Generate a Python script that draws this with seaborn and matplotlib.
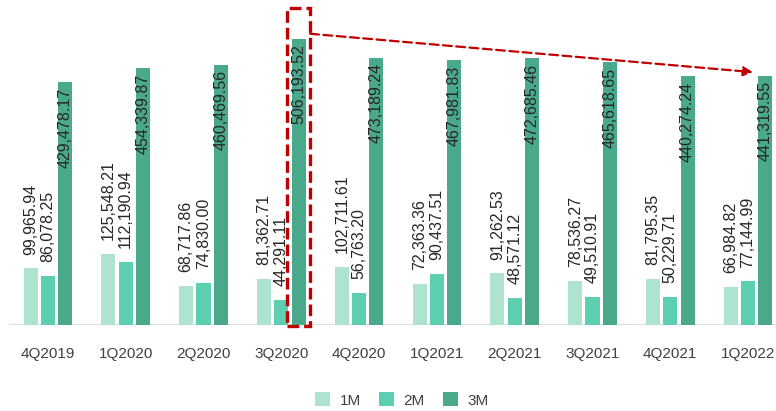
import pandas as pd
import seaborn as sns
import matplotlib.pyplot as plt
from matplotlib.patches import Rectangle

quarters = ["4Q2019", "1Q2020", "2Q2020", "3Q2020", "4Q2020",
            "1Q2021", "2Q2021", "3Q2021", "4Q2021", "1Q2022"]
tenors = ["1M", "2M", "3M"]
m1 = [99965.94, 125548.21, 68717.86, 81362.71, 102711.61,
      72363.36, 91262.53, 78536.27, 81795.35, 66984.82]
m2 = [86078.25, 112190.94, 74830.00, 44291.11, 56763.20,
      90437.51, 48571.12, 49510.91, 50229.71, 77144.99]
m3 = [429478.17, 454339.87, 460469.56, 506193.52, 473189.24,
      467981.83, 472685.46, 465618.65, 440274.24, 441319.55]
colors = ["#aee3d0", "#5ccfb0", "#4aa98b"]

data = pd.DataFrame({
    "quarter": quarters * 3,
    "tenor": sum([[t] * len(quarters) for t in tenors], []),
    "value": m1 + m2 + m3,
})

sns.set_style("white")
plt.rcParams["font.family"] = ["Liberation Sans", "DejaVu Sans"]

fig = plt.figure(figsize=(7.76, 4.11), dpi=100)
ax = fig.add_axes([9 / 776, 86 / 411, 778 / 776, 325 / 411])

sns.barplot(data=data, x="quarter", y="value", hue="tenor", palette=colors,
            saturation=1, width=0.667, gap=0.18, linewidth=0, ax=ax)

ax.set_xlim(-0.5, 9.5)
ax.set_ylim(0, 575000)
sns.despine(ax=ax, left=True, bottom=True)
ax.set_yticks([])
ax.set_xlabel("")
ax.set_ylabel("")
ax.axhline(0, color="#d9d9d9", lw=2, zorder=0)
ax.tick_params(axis="x", length=0, pad=16, labelsize=11, labelcolor="#404040")

# value labels
for cont, vals in zip(ax.containers, [m1, m2, m3]):
    for bar, v in zip(cont, vals):
        xc = bar.get_x() + bar.get_width() / 2
        txt = f"{v:,.2f}"
        if cont is ax.containers[2]:
            ax.annotate(txt, (xc, bar.get_height()), xytext=(0, -4),
                        textcoords="offset points", rotation=90,
                        ha="center", va="top", fontsize=11.5, color="#262626")
        else:
            ax.annotate(txt, (xc, bar.get_height()), xytext=(0, 10),
                        textcoords="offset points", rotation=90,
                        ha="center", va="bottom", fontsize=11.5, color="#262626")

# highlight the peak 3M bar and arrow to the latest one
red = "#c00000"
peak = ax.containers[2][3]
px = peak.get_x() + peak.get_width() / 2
rect = Rectangle((px - 0.148, -2500), 0.296, max(m3) * 1.112,
                 fill=False, edgecolor=red, lw=2.4, ls=(0, (3.5, 1.5)),
                 clip_on=False, zorder=5)
ax.add_patch(rect)
last = ax.containers[2][9]
lx = last.get_x() + last.get_width() / 2
ax.annotate("", xy=(lx - 0.16, m3[9] + 6000), xytext=(px + 0.148, max(m3) * 1.018),
            arrowprops=dict(arrowstyle="-|>", color=red, lw=1.6,
                            ls=(0, (4, 2)), mutation_scale=14,
                            shrinkA=0, shrinkB=0),
            zorder=6)

handles, labels = ax.get_legend_handles_labels()
ax.get_legend().remove()
fig.legend(handles, labels, loc="center", bbox_to_anchor=(402 / 776, 11 / 411),
           ncol=3, frameon=False, fontsize=11, handlelength=1.0, handleheight=1.0,
           handletextpad=0.6, columnspacing=1.2, labelcolor="#404040")

fig.savefig("out.png", dpi=100)
